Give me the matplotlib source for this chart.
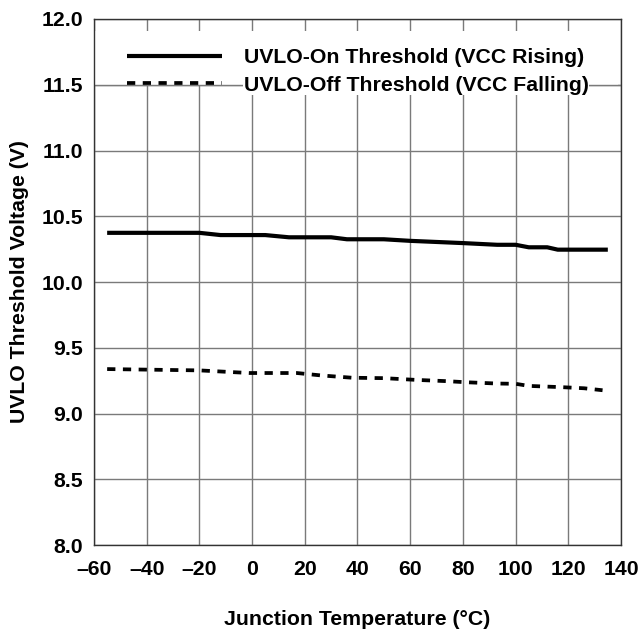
import numpy as np
import matplotlib.pyplot as plt
from matplotlib.patches import Rectangle

# values
temp_on = [-55, -20, -12, 5, 14, 30, 36, 50, 60, 80, 93, 100, 105, 112, 116, 135]
uvlo_on = [10.374, 10.374, 10.357, 10.357, 10.340, 10.340, 10.325, 10.325,
           10.313, 10.296, 10.283, 10.283, 10.264, 10.264, 10.246, 10.246]

temp_off = [-55, -20, -1, 17, 26, 38, 50, 62, 74, 81, 93, 100, 105, 118, 126, 133]
uvlo_off = [9.338, 9.328, 9.308, 9.308, 9.290, 9.272, 9.269, 9.256, 9.246,
            9.238, 9.228, 9.226, 9.210, 9.200, 9.192, 9.177]

x_ticks = [-60, -40, -20, 0, 20, 40, 60, 80, 100, 120, 140]
x_labels = ['–60', '–40', '–20', '0', '20', '40', '60', '80', '100', '120', '140']
y_ticks = [8.0, 8.5, 9.0, 9.5, 10.0, 10.5, 11.0, 11.5, 12.0]

plt.rcParams['font.family'] = ['Liberation Sans', 'DejaVu Sans']
plt.rcParams['font.weight'] = 'bold'
fs = 15.3

fig = plt.figure(figsize=(6.41, 6.29), dpi=100)
ax = fig.add_axes([0.1466, 0.1335, 0.8222, 0.8363])

ax.plot(temp_on, uvlo_on, color='black', lw=3.0, solid_capstyle='butt',
        label='UVLO-On Threshold (VCC Rising)', zorder=3)
ax.plot(temp_off, uvlo_off, color='black', lw=2.7, dashes=(2.2, 2.0),
        label='UVLO-Off Threshold (VCC Falling)', zorder=3)

ax.set_xlim(-60, 140)
ax.set_ylim(8.0, 12.0)
ax.set_xticks(x_ticks)
ax.set_xticklabels(x_labels)
ax.set_yticks(y_ticks)
ax.set_yticklabels([f'{v:.1f}' for v in y_ticks])
ax.tick_params(length=0, labelsize=fs)
ax.tick_params(axis='x', pad=11)
ax.tick_params(axis='y', pad=8)
ax.grid(True, color='#7a7a7a', lw=1.0, zorder=1.5)

for s in ax.spines.values():
    s.set_color('#333333')
    s.set_linewidth(1.0)

# white patch behind the legend, with the 11.5 grid line drawn over it
ax.add_patch(Rectangle((-59.5, 11.5), 198.5, 0.41, facecolor='white',
                       edgecolor='none', zorder=1.6))
ax.axhline(11.5, color='#7a7a7a', lw=1.0, zorder=1.7)

leg = ax.legend(loc='upper left', bbox_to_anchor=(0.062, 0.944), frameon=False,
                prop={'weight': 'bold', 'size': fs}, handlelength=4.5,
                handletextpad=1.0, labelspacing=0.38, borderaxespad=0,
                borderpad=0)
for t in leg.get_texts():
    t.set_fontweight('bold')
    t.set_bbox(dict(facecolor='white', edgecolor='none', pad=0.5))

ax.set_xlabel('Junction Temperature (°C)', fontsize=fs, fontweight='bold', labelpad=22)
ax.set_ylabel('UVLO Threshold Voltage (V)', fontsize=fs, fontweight='bold', labelpad=9)

fig.savefig('out.png', dpi=100)
